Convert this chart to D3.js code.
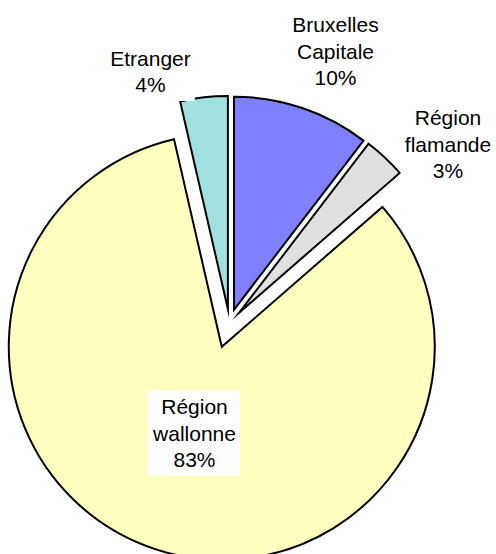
<!DOCTYPE html>
<html>
<head>
<meta charset="utf-8">
<script src="https://cdn.jsdelivr.net/npm/d3@7"></script>
<style>
  body { margin: 0; background: #fff; }
  text { font-family: "Liberation Sans", Arial, sans-serif; font-size: 21px; fill: #000; }
</style>
</head>
<body>
<div id="chart"></div>
<script>
// ====================== pie: origine géographique ===============

const categories = ['Bruxelles Capitale', 'Région flamande', 'Région wallonne', 'Etranger'];
const values = [10.4, 3.2, 82.8, 3.6];
const colors = ['#8080FF', '#E0E0E0', '#FFFFC0', '#A0E0E0'];
const labelLines = [['Bruxelles', 'Capitale'], ['Région', 'flamande'], ['Région', 'wallonne'], ['Etranger']];

// layout (not data)
const explode = [14, 14, 25, 14];
const labelPos = [[335.5, 32], [448, 125], [194.5, 414], [150.5, 65.5]];

const drawPie = () => {
    const width = 496, height = 554;
    const cx = 229.5, cy = 323, r = 213;
    const lineH = 26.5;

    const svg = d3.select('#chart')
        .append('svg')
        .attr('width', width)
        .attr('height', height);

    const pie = d3.pie()
        .sort(null)
        .value(d => d);

    const arc = d3.arc()
        .innerRadius(0)
        .outerRadius(r);

    const total = d3.sum(values);
    const arcs = pie(values);

    svg.append('g')
        .attr('transform', `translate(${cx},${cy})`)
        .selectAll('path')
        .data(arcs)
        .enter()
        .append('path')
        .attr('transform', (d, i) => {
            const a = (d.startAngle + d.endAngle) / 2;
            return `translate(${explode[i] * Math.sin(a)},${-explode[i] * Math.cos(a)})`;
        })
        .attr('d', arc)
        .style('fill', (d, i) => colors[i])
        .style('stroke', '#000')
        .style('stroke-width', 2)
        .style('stroke-linejoin', 'miter')
        .style('stroke-miterlimit', 20);

    // data labels
    const labels = svg.selectAll('g.label')
        .data(arcs)
        .enter()
        .append('g')
        .attr('class', 'label');

    labels.each(function (d, i) {
        const g = d3.select(this);
        const lines = labelLines[i].concat([Math.round(d.value / total * 100) + '%']);
        const [x, y] = labelPos[i];
        const t = g.append('text')
            .attr('text-anchor', 'middle');
        lines.forEach((s, k) => {
            t.append('tspan')
                .attr('x', x)
                .attr('y', y + k * lineH)
                .text(s);
        });
        const bb = t.node().getBBox();
        g.insert('rect', 'text')
            .attr('x', bb.x - 4)
            .attr('y', bb.y - 5)
            .attr('width', bb.width + 8)
            .attr('height', bb.height + 10)
            .style('fill', '#fff');
    });
};

drawPie();
</script>
</body>
</html>
